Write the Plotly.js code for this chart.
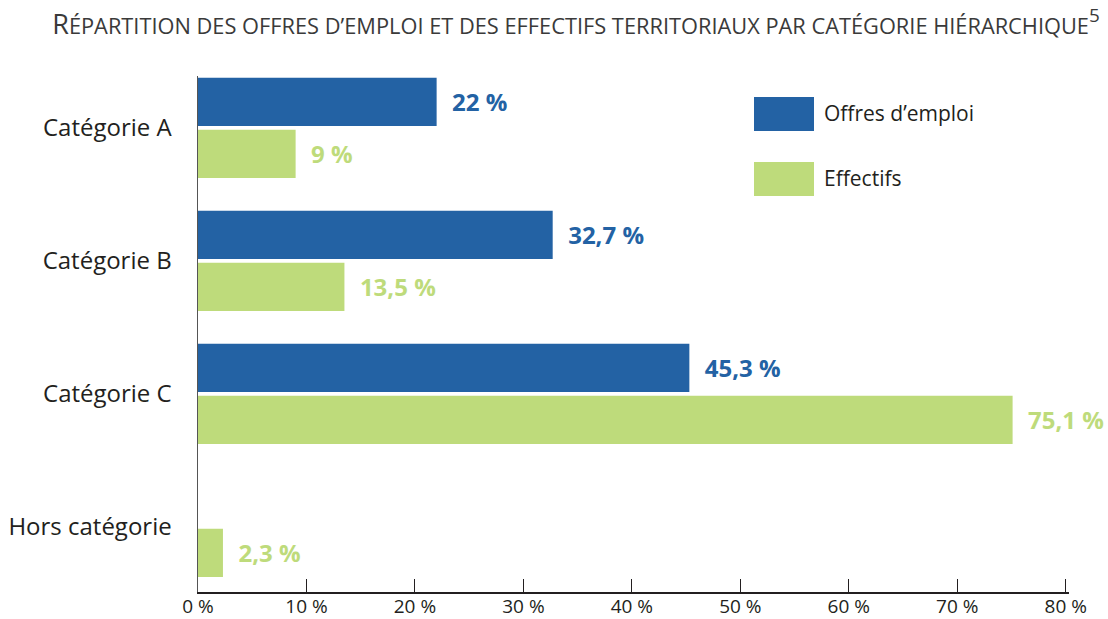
<!DOCTYPE html>
<html>
<head>
<meta charset="utf-8">
<script src="https://cdn.plot.ly/plotly-3.0.1.min.js"></script>
<style>html,body{margin:0;padding:0;background:#fff;}#chart{width:1108px;height:619px;}</style>
</head>
<body>
<div id="chart"></div>
<script>
const categories = ["Catégorie A", "Catégorie B", "Catégorie C", "Hors catégorie"];
const seriesNames = ["Offres d’emploi", "Effectifs"];
const offres = [22, 32.7, 45.3, null];
const effectifs = [9, 13.5, 75.1, 2.3];
const xTicks = [0, 10, 20, 30, 40, 50, 60, 70, 80];
const titleText = "R<span style=\"font-size:21.8px\">ÉPARTITION DES OFFRES D’EMPLOI ET DES EFFECTIFS TERRITORIAUX PAR CATÉGORIE HIÉRARCHIQUE</span><sup>5</sup>";

const BLUE = "#2362a4";
const GREEN = "#bedb7b";
const FONT = "Open Sans, sans-serif";

function fmt(v) {
  return v == null ? " " : "\u00a0\u00a0" + String(v).replace(".", ",") + " %";
}

const traces = [
  {
    type: "bar", orientation: "h", name: seriesNames[0],
    y: categories, x: offres,
    marker: {color: BLUE},
    text: offres.map(fmt), textposition: "outside", cliponaxis: false,
    textfont: {family: FONT, size: 24, color: BLUE, weight: "bold"},
    hoverinfo: "x+y"
  },
  {
    type: "bar", orientation: "h", name: seriesNames[1],
    y: categories, x: effectifs,
    marker: {color: GREEN},
    text: effectifs.map(fmt), textposition: "outside", cliponaxis: false,
    textfont: {family: FONT, size: 24, color: GREEN, weight: "bold"},
    hoverinfo: "x+y"
  }
];

const layout = {
  width: 1108, height: 619,
  margin: {l: 198, r: 39, t: 76, b: 27},
  paper_bgcolor: "#fff", plot_bgcolor: "#fff",
  font: {family: FONT, color: "#231f20"},
  showlegend: false,
  barmode: "group",
  bargap: 0.22,
  bargroupgap: 0.07,
  title: {
    text: titleText,
    font: {family: FONT, size: 27, color: "#3a3a3a"},
    x: 576 / 1108, xanchor: "center", xref: "container",
    y: 0.976, yanchor: "top", yref: "container"
  },
  xaxis: {
    range: [0, 80.3],
    tickvals: xTicks,
    ticktext: xTicks.map(v => v + " %"),
    ticks: "inside", ticklen: 13, tickwidth: 1, tickcolor: "#231f20",
    showline: true, linecolor: "#231f20", linewidth: 2,
    showgrid: false, zeroline: false,
    tickfont: {family: FONT, size: 19, color: "#231f20"},
    ticklabelstandoff: -4,
    fixedrange: true
  },
  yaxis: {
    type: "category",
    range: [3.49, -0.39],
    showline: true, linecolor: "#555", linewidth: 1.5,
    ticks: "", showgrid: false, zeroline: false,
    tickfont: {family: FONT, size: 24, color: "#231f20"},
    ticklabelstandoff: 20,
    fixedrange: true
  },
  shapes: [
    {type: "rect", xref: "paper", yref: "paper",
     x0: (754-198)/871, x1: (814-198)/871, y0: (592-131)/516, y1: (592-97)/516,
     fillcolor: BLUE, line: {width: 0}},
    {type: "rect", xref: "paper", yref: "paper",
     x0: (754-198)/871, x1: (814-198)/871, y0: (592-196)/516, y1: (592-162)/516,
     fillcolor: GREEN, line: {width: 0}}
  ],
  annotations: [
    {xref: "paper", yref: "paper", x: (822-198)/871, y: (592-113)/516,
     xanchor: "left", yanchor: "middle", showarrow: false,
     text: seriesNames[0], font: {family: FONT, size: 21, color: "#231f20"}},
    {xref: "paper", yref: "paper", x: (822-198)/871, y: (592-178)/516,
     xanchor: "left", yanchor: "middle", showarrow: false,
     text: seriesNames[1], font: {family: FONT, size: 21, color: "#231f20"}}
  ]
};

Plotly.newPlot("chart", traces, layout, {displayModeBar: false, staticPlot: true});
</script>
</body>
</html>
